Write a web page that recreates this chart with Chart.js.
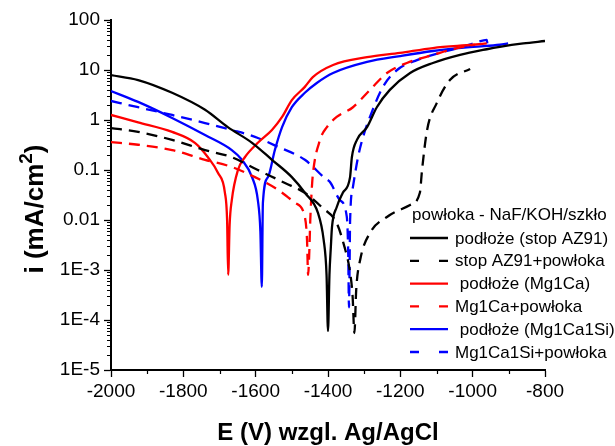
<!DOCTYPE html>
<html>
<head>
<meta charset="utf-8">
<script src="https://cdn.jsdelivr.net/npm/chart.js@4.4.1/dist/chart.umd.min.js"></script>
<style>
  html, body { margin: 0; padding: 0; background: #fff; }
  canvas { display: block; }
</style>
</head>
<body>
<canvas id="tafel" width="615" height="446"></canvas>
<script>
// potentials (mV) and current densities (mA/cm2)
const azE = [-2000, -1925, -1831, -1740, -1677, -1610, -1555, -1500, -1464, -1428, -1412, -1404, -1400, -1396, -1392, -1389, -1376, -1359, -1339, -1334, -1320, -1292, -1265, -1229, -1173, -1110, -1035, -961, -925, -860, -800];
const azI = [7.9, 6.3, 3.5, 1.6, 0.72, 0.35, 0.16, 0.072, 0.035, 0.014, 0.004, 0.0008, 6e-5, 0.0008, 0.003, 0.0072, 0.018, 0.035, 0.072, 0.18, 0.4, 0.72, 1.8, 4.0, 8.7, 13.8, 20, 26, 29, 34, 38];

const azCoatE = [-2000, -1925, -1831, -1740, -1666, -1594, -1519, -1464, -1417, -1376, -1355, -1340, -1332, -1327, -1322, -1311, -1284, -1237, -1173, -1146, -1140, -1126, -1099, -1063, -1007];
const azCoatI = [0.69, 0.58, 0.4, 0.25, 0.18, 0.1, 0.055, 0.035, 0.018, 0.0087, 0.003, 0.001, 3e-4, 5.5e-5, 4e-4, 0.0016, 0.0055, 0.0115, 0.02, 0.035, 0.1, 0.63, 2.2, 6.3, 10.5];

const caE = [-2000, -1925, -1831, -1768, -1732, -1704, -1685, -1679, -1676, -1672, -1666, -1649, -1630, -1594, -1555, -1527, -1500, -1464, -1442, -1386, -1292, -1201, -1110, -999, -961];
const caI = [1.26, 0.9, 0.58, 0.35, 0.18, 0.087, 0.035, 0.01, 8e-4, 0.008, 0.025, 0.1, 0.18, 0.35, 0.63, 1.15, 2.5, 4.6, 7.2, 12.6, 18, 22, 27.5, 32, 34];

const caCoatE = [-2000, -1925, -1831, -1740, -1666, -1602, -1538, -1491, -1464, -1458, -1455, -1452, -1449, -1445, -1442, -1422, -1403, -1376, -1331, -1284, -1237, -1182, -1110, -1043, -994];
const caCoatI = [0.36, 0.32, 0.25, 0.16, 0.115, 0.072, 0.04, 0.022, 0.0115, 0.004, 8e-4, 0.002, 0.01, 0.04, 0.08, 0.4, 0.72, 1.15, 1.8, 4.0, 8.7, 13.8, 20, 27.5, 32];

const siE = [-2000, -1925, -1831, -1740, -1666, -1638, -1610, -1594, -1587, -1583, -1580, -1566, -1547, -1527, -1500, -1464, -1431, -1386, -1292, -1201, -1110, -999, -925, -902];
const siI = [3.8, 2.3, 1.1, 0.5, 0.25, 0.16, 0.072, 0.025, 0.006, 4.6e-4, 0.022, 0.072, 0.25, 0.72, 1.8, 3.5, 5.5, 8.7, 14.5, 19, 24, 29, 32, 34];

const siCoatE = [-2000, -1925, -1831, -1740, -1666, -1602, -1538, -1464, -1409, -1395, -1367, -1348, -1344, -1342, -1340, -1339, -1331, -1317, -1303, -1284, -1248, -1209, -1154, -1082, -1027, -988, -961, -959];
const siCoatI = [2.4, 1.8, 1.26, 0.87, 0.63, 0.46, 0.29, 0.16, 0.069, 0.058, 0.025, 0.0115, 0.002, 1.8e-4, 0.002, 0.009, 0.046, 0.18, 0.46, 1.15, 4.6, 10, 15.8, 23, 29, 36, 40, 32];

const seriesNames = ["podłoże (stop AZ91)", "stop AZ91+powłoka", " podłoże (Mg1Ca)", "Mg1Ca+powłoka", " podłoże (Mg1Ca1Si)", "Mg1Ca1Si+powłoka"];
const legendTitle = "powłoka - NaF/KOH/szkło";

const yTickValues = [1e-5, 1e-4, 1e-3, 0.01, 0.1, 1, 10, 100];
const yTickLabels = ["1E-5", "1E-4", "1E-3", "0.01", "0.1", "1", "10", "100"];

const FONT = "'Liberation Sans', Arial, sans-serif";
const dash = [11, 7];

function pts(xs, ys) {
    return xs.map((x, k) => ({x: x, y: ys[k]}));
}

function line(i, xs, ys, color, dashed) {
    return {
        label: seriesNames[i],
        data: pts(xs, ys),
        borderColor: color,
        borderWidth: 2.3,
        borderDash: dashed ? dash : [],
        pointRadius: 0,
        fill: false,
        cubicInterpolationMode: "monotone"
    };
}

// axis titles, minor ticks and the frameless legend drawn on top
const extras = {
    id: "extras",
    afterDraw(chart) {
        const ctx = chart.ctx;
        const area = chart.chartArea;
        const xs = chart.scales.x;
        const ys = chart.scales.y;
        ctx.save();

        // minor ticks
        ctx.strokeStyle = "#000";
        ctx.lineWidth = 1.2;
        ctx.beginPath();
        for (let e = -5; e < 2; e++) {
            for (let k = 2; k <= 9; k++) {
                const py = Math.round(ys.getPixelForValue(k * Math.pow(10, e))) + 0.5;
                ctx.moveTo(area.left - 4, py);
                ctx.lineTo(area.left, py);
            }
        }
        for (let v = -1900; v < -800; v += 200) {
            const px = Math.round(xs.getPixelForValue(v)) + 0.5;
            ctx.moveTo(px, area.bottom);
            ctx.lineTo(px, area.bottom + 4);
        }
        ctx.stroke();

        // x title
        ctx.fillStyle = "#000";
        ctx.font = "bold 24px " + FONT;
        ctx.textAlign = "center";
        ctx.textBaseline = "alphabetic";
        ctx.fillText("E (V) wzgl. Ag/AgCl", (area.left + area.right) / 2, 440);

        // y title with superscript
        ctx.save();
        ctx.translate(43, 209);
        ctx.rotate(-Math.PI / 2);
        ctx.textAlign = "left";
        const big = "bold 26px " + FONT;
        const small = "bold 19px " + FONT;
        ctx.font = big;
        const w1 = ctx.measureText("i (mA/cm").width;
        const w3 = ctx.measureText(")").width;
        ctx.font = small;
        const w2 = ctx.measureText("2").width;
        let sx = -(w1 + w2 + w3) / 2;
        ctx.font = big;
        ctx.fillText("i (mA/cm", sx, 0);
        ctx.font = small;
        ctx.fillText("2", sx + w1, -11);
        ctx.font = big;
        ctx.fillText(")", sx + w1 + w2, 0);
        ctx.restore();

        // legend
        ctx.font = "17px " + FONT;
        ctx.textAlign = "left";
        ctx.textBaseline = "middle";
        ctx.fillText(legendTitle, 412, 215);
        chart.data.datasets.forEach((ds, i) => {
            const y = 238 + i * 22.8;
            ctx.strokeStyle = ds.borderColor;
            ctx.lineWidth = 2.3;
            ctx.beginPath();
            if (ds.borderDash.length) {
                ctx.moveTo(410, y); ctx.lineTo(419, y);
                ctx.moveTo(439, y); ctx.lineTo(448, y);
            } else {
                ctx.moveTo(410, y); ctx.lineTo(448, y);
            }
            ctx.stroke();
            ctx.fillStyle = "#000";
            ctx.fillText(ds.label, 455, y + 1);
        });
        ctx.restore();
    }
};

new Chart(document.getElementById("tafel").getContext("2d"), {
    type: "line",
    data: {
        datasets: [
            line(0, azE, azI, "#000000", false),
            line(1, azCoatE, azCoatI, "#000000", true),
            line(2, caE, caI, "#ff0000", false),
            line(3, caCoatE, caCoatI, "#ff0000", true),
            line(4, siE, siI, "#0000ff", false),
            line(5, siCoatE, siCoatI, "#0000ff", true)
        ]
    },
    options: {
        responsive: false,
        animation: false,
        devicePixelRatio: 1,
        layout: { padding: { left: 0, right: 70, top: 20, bottom: 0 } },
        plugins: {
            legend: { display: false },
            tooltip: { enabled: false }
        },
        scales: {
            x: {
                type: "linear",
                min: -2000,
                max: -800,
                ticks: {
                    stepSize: 200,
                    color: "#000",
                    font: { family: FONT, size: 19 },
                    padding: 3,
                    maxRotation: 0,
                    callback: v => String(v)
                },
                grid: {
                    drawOnChartArea: false,
                    tickLength: 7,
                    tickColor: "#000",
                    tickWidth: 1.3
                },
                border: { color: "#000", width: 2 },
                afterFit: s => { s.height = 76; }
            },
            y: {
                type: "logarithmic",
                min: 1e-5,
                max: 100,
                afterBuildTicks: s => { s.ticks = yTickValues.map(v => ({value: v})); },
                ticks: {
                    autoSkip: false,
                    color: "#000",
                    font: { family: FONT, size: 19 },
                    padding: 4,
                    callback: v => yTickLabels[yTickValues.findIndex(t => Math.abs(t - v) / t < 1e-6)]
                },
                grid: {
                    drawOnChartArea: false,
                    tickLength: 7,
                    tickColor: "#000",
                    tickWidth: 1.3
                },
                border: { color: "#000", width: 2 },
                afterFit: s => { s.width = 111; }
            }
        }
    },
    plugins: [extras]
});
</script>
</body>
</html>
